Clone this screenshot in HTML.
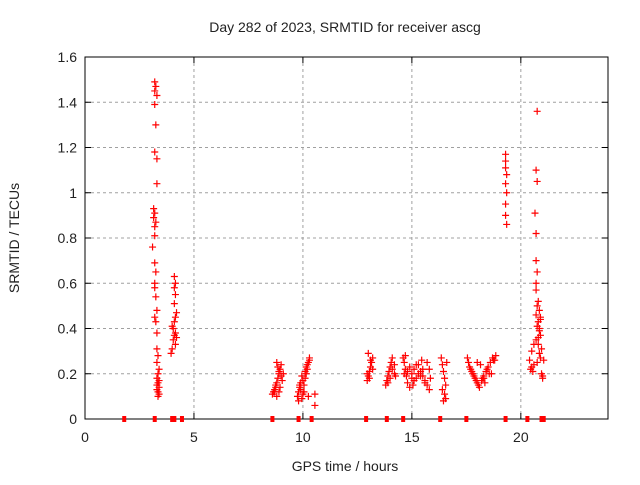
<!DOCTYPE html>
<html><head><meta charset="utf-8"><style>
body{margin:0;background:#fff;}
svg text{font-family:"Liberation Sans",sans-serif;font-size:14px;fill:#222;}
</style></head><body>
<svg id="chart" width="640" height="480">
<text x="345" y="32" text-anchor="middle">Day 282 of 2023, SRMTID for receiver ascg</text>
<text x="345" y="471" text-anchor="middle">GPS time / hours</text>
<text transform="translate(19,238) rotate(-90)" text-anchor="middle">SRMTID / TECUs</text>
<g id="grid"></g><g id="axes"></g><g id="pts"></g>
</svg>
<script>
const xTicks=[0,5,10,15,20];
const yTicks=[0,0.2,0.4,0.6,0.8,1,1.2,1.4,1.6];
const yLabels=["0","0.2","0.4","0.6","0.8","1","1.2","1.4","1.6"];
const times=[
3.2,3.25,3.2,3.3,3.2,3.25,3.2,3.3,3.3,3.15,3.2,3.15,3.25,3.2,3.2,3.1,3.2,3.25,3.2,3.2,3.25,3.3,3.2,3.25,3.3,3.3,3.35,3.3,3.4,3.35,3.3,3.4,3.35,3.3,3.4,3.3,3.35,3.4,3.35,
4.1,4.15,4.1,4.15,4.1,4.2,4.15,4.1,4.0,4.05,4.15,4.1,4.2,4.05,4.15,4.0,3.95,
8.6,8.7,8.75,8.8,8.85,8.9,8.95,9.0,8.8,8.85,8.9,9.0,9.05,8.7,8.75,8.9,8.95,9.1,8.65,8.8,
9.75,9.8,9.85,9.9,9.95,10.0,10.05,10.1,10.15,10.2,10.25,10.3,9.8,9.9,10.0,10.1,10.2,10.3,9.85,9.95,10.05,10.15,10.25,10.55,10.55,
12.95,13.0,13.05,13.1,13.15,13.2,13.0,13.1,13.2,12.95,13.05,
13.8,13.85,13.9,13.95,14.0,14.05,14.1,14.2,13.9,14.0,14.1,14.2,14.25,
14.6,14.65,14.7,14.75,14.8,14.9,15.0,15.1,15.2,15.3,15.4,15.5,15.6,15.7,15.8,14.7,14.9,15.1,15.3,15.5,15.7,14.8,15.0,15.2,15.4,15.6,15.8,14.65,15.05,15.45,15.85,
16.35,16.4,16.45,16.5,16.55,16.4,16.5,16.45,16.55,16.6,
17.55,17.6,17.7,17.8,17.9,18.0,18.1,18.2,18.3,18.4,18.5,18.6,18.7,18.8,18.85,17.65,17.85,18.05,18.25,18.45,18.65,17.75,17.95,18.15,18.35,18.55,18.75,18.0,18.3,
19.3,19.3,19.3,19.35,19.3,19.35,19.3,19.3,19.35,
20.75,20.7,20.75,20.65,20.7,20.7,20.75,20.7,20.7,20.8,20.75,20.85,20.7,20.9,20.8,20.75,20.85,20.9,20.7,20.8,20.95,20.85,20.9,20.75,20.6,20.5,20.45,20.55,20.4,20.5,20.6,20.95,21.0,21.0,20.9,20.85,20.8,21.05];
const values=[
1.49,1.47,1.45,1.43,1.39,1.30,1.18,1.15,1.04,0.93,0.91,0.89,0.87,0.85,0.81,0.76,0.69,0.65,0.60,0.58,0.54,0.48,0.45,0.43,0.38,0.31,0.28,0.25,0.22,0.20,0.18,0.17,0.16,0.15,0.14,0.13,0.12,0.11,0.10,
0.63,0.60,0.58,0.55,0.51,0.47,0.45,0.43,0.41,0.40,0.38,0.37,0.36,0.35,0.33,0.31,0.29,
0.11,0.12,0.14,0.16,0.18,0.20,0.22,0.24,0.25,0.23,0.21,0.19,0.17,0.13,0.15,0.12,0.14,0.20,0.12,0.10,
0.10,0.12,0.14,0.16,0.09,0.11,0.15,0.18,0.20,0.22,0.25,0.27,0.08,0.13,0.17,0.21,0.24,0.26,0.15,0.19,0.12,0.23,0.10,0.06,0.11,
0.17,0.19,0.21,0.23,0.25,0.27,0.29,0.26,0.22,0.20,0.18,
0.15,0.17,0.19,0.21,0.23,0.25,0.27,0.20,0.16,0.18,0.22,0.24,0.19,
0.27,0.25,0.22,0.19,0.16,0.14,0.20,0.22,0.18,0.24,0.21,0.19,0.17,0.15,0.13,0.28,0.23,0.17,0.20,0.22,0.25,0.21,0.18,0.24,0.19,0.16,0.22,0.20,0.15,0.26,0.18,
0.27,0.24,0.21,0.18,0.15,0.13,0.11,0.08,0.09,0.25,
0.27,0.25,0.22,0.20,0.18,0.16,0.14,0.17,0.19,0.21,0.23,0.25,0.27,0.26,0.28,0.23,0.19,0.15,0.18,0.22,0.20,0.21,0.17,0.24,0.16,0.20,0.26,0.25,0.18,
1.17,1.14,1.11,1.08,1.04,1.00,0.95,0.90,0.86,
1.36,1.10,1.05,0.91,0.82,0.70,0.65,0.60,0.57,0.52,0.50,0.48,0.46,0.45,0.43,0.41,0.39,0.37,0.35,0.33,0.31,0.29,0.27,0.25,0.24,0.23,0.22,0.21,0.26,0.30,0.33,0.20,0.18,0.19,0.44,0.40,0.36,0.26];
const stations=[1.8,3.2,4.0,4.1,4.45,8.6,9.8,10.4,12.9,13.85,14.6,16.3,17.5,19.3,20.3,20.95,21.05];
const X=h=>85+h*(523/24), Y=v=>419-v*(362/1.6);
const NS="http://www.w3.org/2000/svg";
function mk(tag,attrs,parent){const e=document.createElementNS(NS,tag);for(const k in attrs)e.setAttribute(k,attrs[k]);parent.appendChild(e);return e;}
const grid=document.getElementById('grid'),axes=document.getElementById('axes'),pts=document.getElementById('pts');
xTicks.forEach(t=>{
 if(t>0){const l=mk('line',{x1:X(t),x2:X(t),y1:57,y2:419,stroke:'#a0a0a0','stroke-dasharray':'3,3'},grid);
 
 }
 const tx=mk('text',{x:X(t),y:442,'text-anchor':'middle'},axes);tx.textContent=t;
 
 
 mk('line',{x1:X(t),x2:X(t),y1:419,y2:413,stroke:'#000'},axes);
 mk('line',{x1:X(t),x2:X(t),y1:57,y2:63,stroke:'#000'},axes);
});
yTicks.forEach((t,i)=>{
 if(t>0&&t<1.6){const l=mk('line',{x1:85,x2:608,y1:Y(t),y2:Y(t),stroke:'#a0a0a0','stroke-dasharray':'3,3'},grid);
 
 }
 const tx=mk('text',{x:77,y:Y(t)+5,'text-anchor':'end'},axes);tx.textContent=yLabels[i];
 
 
 mk('line',{x1:85,x2:91,y1:Y(t),y2:Y(t),stroke:'#000'},axes);
 mk('line',{x1:608,x2:602,y1:Y(t),y2:Y(t),stroke:'#000'},axes);
});
const frame=mk('rect',{x:85,y:57,width:523,height:362,fill:'none',stroke:'#000'},axes);


stations.forEach(h=>{const r=mk('rect',{x:X(h)-2,y:416,width:4,height:6,fill:'#f00'},pts);
 
 });
times.forEach((h,i)=>{const x=X(h),y=Y(values[i]);
 const p=mk('path',{d:`M${x-3.5},${y}H${x+3.5}M${x},${y-3.5}V${y+3.5}`,stroke:'#f00','stroke-width':1.2},pts);
 
 });
</script>
</body></html>
